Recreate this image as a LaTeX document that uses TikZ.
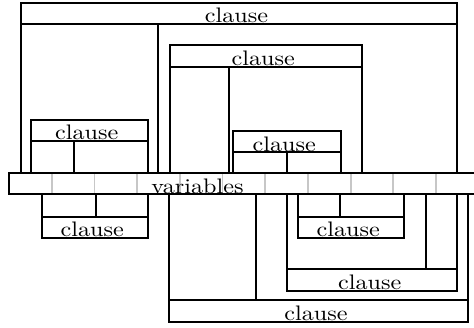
\documentclass[tikz,border=0pt]{standalone}
\usepackage{tikz}
\usetikzlibrary{positioning}
\tikzset{
    wall/.style={draw=black, line width=1pt},
    cell/.style={draw=black!22, line width=0.9pt},
    lbl/.style={anchor=base, inner sep=0pt, xscale=1.15, transform shape,
        font=\fontsize{10.5}{12}\selectfont},
}

\begin{document}
\begin{tikzpicture}[x=0.5pt, y=-0.5pt]
	\useasboundingbox (0,0) rectangle (474,327);
	\clip (0,0) rectangle (474,327);
	% variables bar
	\foreach \i in {1,...,10}
		\draw[cell] (9+42.7*\i,173.3) -- ++(0,21);
	\draw[wall] (9,173.3) rectangle (478.7,194.3);
	\node[lbl] (vars) at (197.5,193.3) {variables};
	% top clause
	\draw[wall] (20.7,173.3) -- (20.7,3.3) -- (457.3,3.3) -- (457.3,173.3);
	\draw[wall] (20.7,24) -- (457.3,24);
	\draw[wall] (158.3,24) -- (158.3,173.3);
	\node[lbl] (top) at (236.5,22.8) {clause};
	% inner clause
	\draw[wall] (170,173.3) -- (170,45) -- (361.7,45) -- (361.7,173.3);
	\draw[wall] (170,66.7) -- (361.7,66.7);
	\draw[wall] (228.7,66.7) -- (228.7,173.3);
	\node[lbl] (inner) at (263.3,65.5) {clause};
	% left clause
	\draw[wall] (31,173.3) -- (31,120) -- (148.3,120) -- (148.3,173.3);
	\draw[wall] (31,141) -- (148.3,141);
	\draw[wall] (74,141) -- (74,173.3);
	\node[lbl] (left) at (86.8,139.8) {clause};
	% middle clause
	\draw[wall] (233.3,173.3) -- (233.3,130.7) -- (340.7,130.7) -- (340.7,173.3);
	\draw[wall] (233.3,152.3) -- (340.7,152.3);
	\draw[wall] (287.3,152.3) -- (287.3,173.3);
	\node[lbl] (mid) at (284.3,151.1) {clause};
	% lower left clause
	\draw[wall] (41.7,194.3) -- (41.7,237.7) -- (148.3,237.7) -- (148.3,194.3);
	\draw[wall] (41.7,216.7) -- (148.3,216.7);
	\draw[wall] (95.7,194.3) -- (95.7,216.7);
	\node[lbl] (lowleft) at (92.2,236.5) {clause};
	% lower middle clause
	\draw[wall] (297.7,194.3) -- (297.7,237.7) -- (404.3,237.7) -- (404.3,194.3);
	\draw[wall] (297.7,216.7) -- (404.3,216.7);
	\draw[wall] (340,194.3) -- (340,216.7);
	\node[lbl] (lowmid) at (348.3,236.5) {clause};
	% lower clause
	\draw[wall] (287.3,194.3) -- (287.3,291) -- (457.3,291) -- (457.3,194.3);
	\draw[wall] (287.3,268.7) -- (457.3,268.7);
	\draw[wall] (426,194.3) -- (426,268.7);
	\node[lbl] (low) at (369.8,289.8) {clause};
	% bottom clause
	\draw[wall] (169.3,194.3) -- (169.3,322) -- (468.3,322) -- (468.3,194.3);
	\draw[wall] (169.3,300.3) -- (468.3,300.3);
	\draw[wall] (255.5,194.3) -- (255.5,300.3);
	\node[lbl] (bottom) at (316,320.8) {clause};
\end{tikzpicture}
\end{document}
